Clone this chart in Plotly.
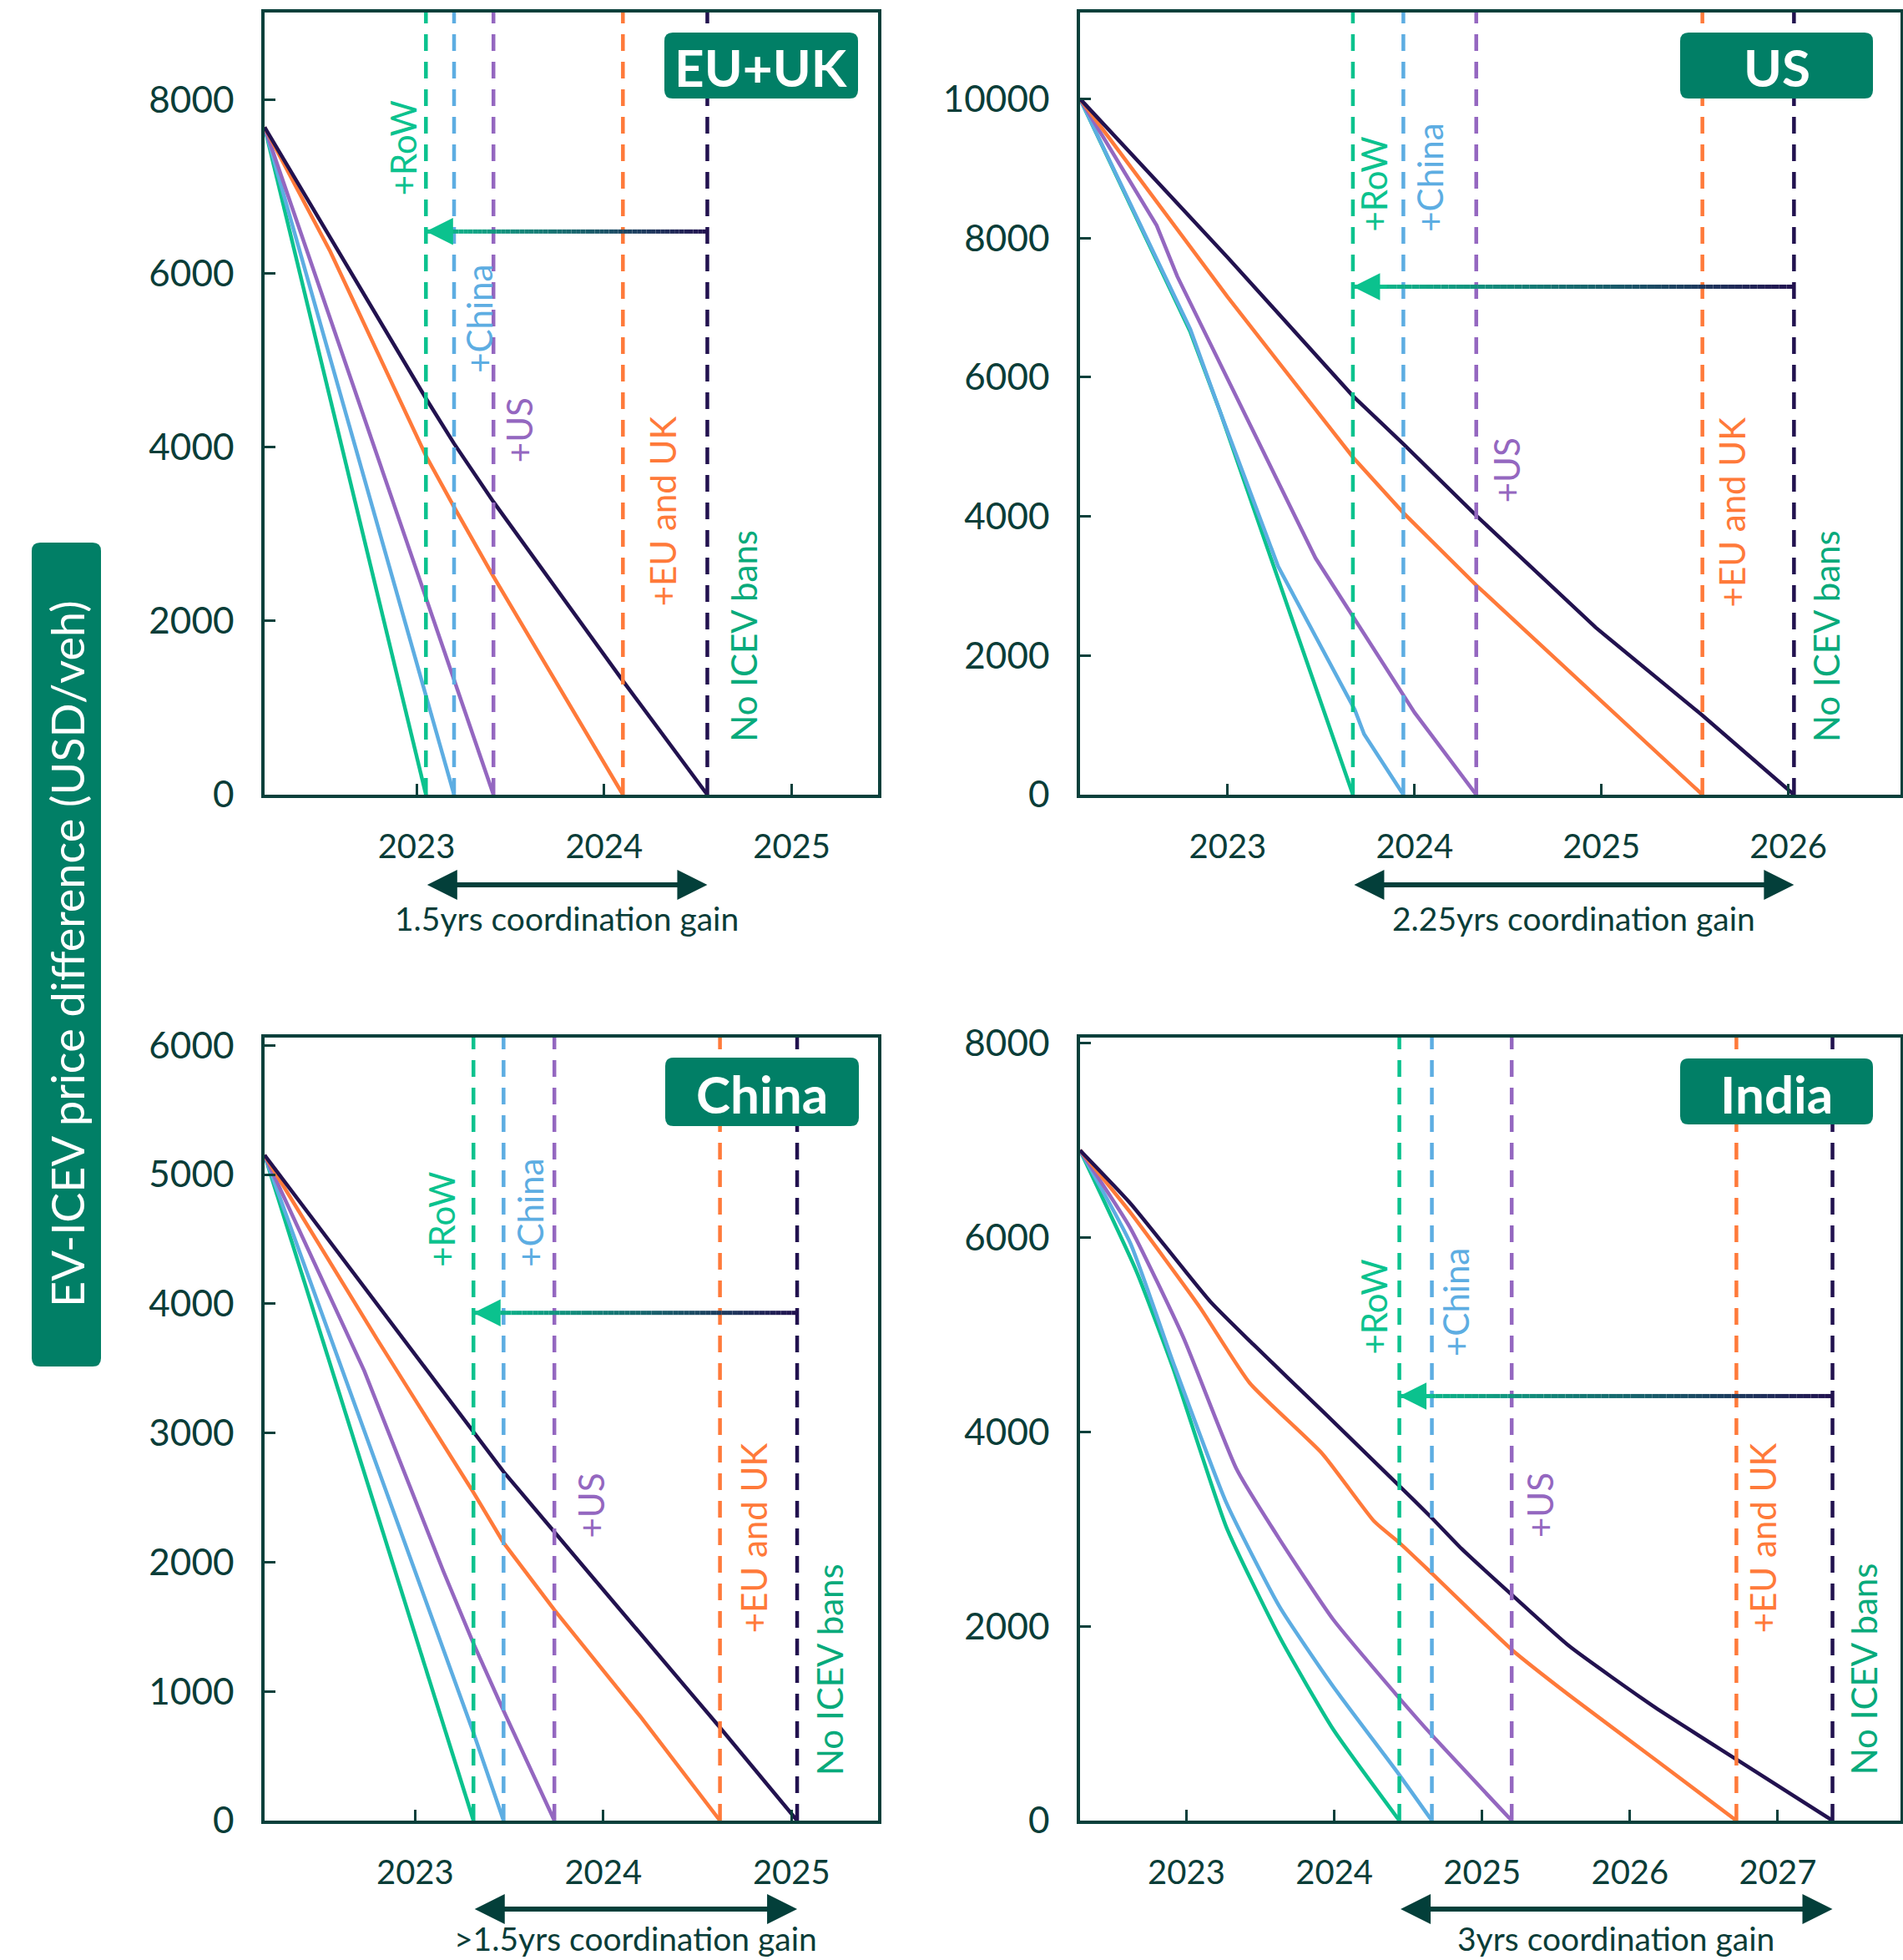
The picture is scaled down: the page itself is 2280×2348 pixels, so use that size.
import plotly.graph_objects as go

W, H = 2280, 2348
FONT = "Lato"
AXIS_COLOR = "#0A403B"
TEXT_DARK = "#0A3D38"
BOX_GREEN = "#017F66"

# ---------------- data ----------------
SCENARIOS = ["+RoW", "+China", "+US", "+EU and UK", "No ICEV bans"]
SERIES_COLORS = ["#0BC28E", "#5DADE2", "#9467C0", "#FF7A3A", "#22124F"]
LABEL_COLORS = ["#0BC28E", "#5DADE2", "#9467C0", "#FF7A3A", "#07AA7B"]
PANEL_TITLES = ["EU+UK", "US", "China", "India"]
GAIN_TEXTS = ["1.5yrs coordination gain", "2.25yrs coordination gain",
              ">1.5yrs coordination gain", "3yrs coordination gain"]

# EU+UK
euuk_row_x = [2022.19, 2023.05]
euuk_row_y = [7680, 0]
euuk_china_x = [2022.19, 2023.20]
euuk_china_y = [7680, 0]
euuk_us_x = [2022.19, 2023.41]
euuk_us_y = [7680, 0]
euuk_eu_x = [2022.19, 2022.54, 2023.05, 2023.20, 2023.41, 2024.10]
euuk_eu_y = [7680, 6250, 3900, 3310, 2510, 0]
euuk_none_x = [2022.19, 2023.05, 2023.20, 2023.41, 2024.10, 2024.55]
euuk_none_y = [7680, 4560, 4040, 3370, 1310, 0]
euuk_arrow_y = 6480

# US
us_row_x = [2022.21, 2022.80, 2022.96, 2023.67]
us_row_y = [10000, 6650, 5500, 0]
us_china_x = [2022.21, 2022.80, 2022.96, 2023.27, 2023.68, 2023.73, 2023.94]
us_china_y = [10000, 6690, 5500, 3280, 1220, 870, 0]
us_us_x = [2022.21, 2022.62, 2022.73, 2023.47, 2024.00, 2024.33]
us_us_y = [10000, 8180, 7450, 3400, 1180, 0]
us_eu_x = [2022.21, 2023.00, 2023.67, 2023.94, 2024.33, 2024.97, 2025.54]
us_eu_y = [10000, 7150, 4850, 4050, 3010, 1410, 0]
us_none_x = [2022.21, 2023.00, 2023.67, 2023.94, 2024.33, 2024.97, 2025.54, 2026.03]
us_none_y = [10000, 7720, 5730, 5040, 4010, 2400, 1140, 0]
us_arrow_y = 7300

# China
china_row_x = [2022.20, 2023.31]
china_row_y = [5150, 0]
china_china_x = [2022.20, 2023.31, 2023.47]
china_china_y = [5150, 680, 0]
china_us_x = [2022.20, 2022.73, 2023.15, 2023.31, 2023.47, 2023.74]
china_us_y = [5150, 3480, 1930, 1370, 850, 0]
china_eu_x = [2022.20, 2022.80, 2023.31, 2023.47, 2023.74, 2024.20, 2024.62]
china_eu_y = [5150, 3720, 2540, 2150, 1630, 800, 0]
china_none_x = [2022.20, 2023.31, 2023.47, 2023.93, 2024.62, 2025.03]
china_none_y = [5150, 3000, 2700, 1906, 720, 0]
china_arrow_y = 3930

# India
india_row_x = [2022.28, 2022.66, 2022.91, 2023.27, 2023.63, 2023.99, 2024.44]
india_row_y = [6900, 5660, 4655, 3020, 1890, 945, 0]
india_china_x = [2022.28, 2022.62, 2022.91, 2023.27, 2023.63, 2023.99, 2024.44, 2024.66]
india_china_y = [6900, 5945, 4715, 3270, 2200, 1385, 470, 0]
india_us_x = [2022.28, 2022.62, 2022.98, 2023.34, 2023.63, 2023.99, 2024.44, 2024.66, 2025.20]
india_us_y = [6900, 6100, 4970, 3615, 2895, 2075, 1260, 880, 0]
india_eu_x = [2022.28, 2022.62, 2023.09, 2023.43, 2023.92, 2024.27, 2024.44, 2024.66,
              2025.20, 2025.59, 2026.17, 2026.72]
india_eu_y = [6900, 6260, 5285, 4500, 3775, 3080, 2860, 2545, 1760, 1290, 630, 0]
india_none_x = [2022.28, 2022.62, 2023.16, 2023.45, 2023.92, 2024.43, 2024.66, 2024.86,
                2025.20, 2025.59, 2026.17, 2026.72, 2027.37]
india_none_y = [6900, 6355, 5345, 4905, 4215, 3460, 3115, 2800, 2325, 1795, 1165, 630, 0]
india_arrow_y = 4370

# ---------------- layout helpers ----------------
PANELS = [
    dict(xs=[euuk_row_x, euuk_china_x, euuk_us_x, euuk_eu_x, euuk_none_x],
         ys=[euuk_row_y, euuk_china_y, euuk_us_y, euuk_eu_y, euuk_none_y],
         arrow_y=euuk_arrow_y, px=(317, 15, 1052, 952), shape="linear",
         xrange=[2022.19, 2025.46], yrange=[0, 9000], dtick=2000,
         xticks=[2023, 2024, 2025], box=(796, 39, 1028, 118),
         labels=[(2022.93, 6878), (2023.33, 4835), (2023.55, 3799), (2024.31, 2144), (2024.74, 590)],
         arrow_px=1060, text_px=1100),
    dict(xs=[us_row_x, us_china_x, us_us_x, us_eu_x, us_none_x],
         ys=[us_row_y, us_china_y, us_us_y, us_eu_y, us_none_y],
         arrow_y=us_arrow_y, px=(1294, 15, 2277, 952), shape="linear",
         xrange=[2022.21, 2026.60], yrange=[0, 11240], dtick=2000,
         xticks=[2023, 2024, 2025, 2026], box=(2013, 39, 2244, 118),
         labels=[(2023.78, 8061), (2024.08, 8061), (2024.49, 4165), (2025.70, 2675), (2026.20, 736)],
         arrow_px=1060, text_px=1100),
    dict(xs=[china_row_x, china_china_x, china_us_x, china_eu_x, china_none_x],
         ys=[china_row_y, china_china_y, china_us_y, china_eu_y, china_none_y],
         arrow_y=china_arrow_y, px=(317, 1243, 1052, 2181), shape="linear",
         xrange=[2022.20, 2025.46], yrange=[0, 6060], dtick=1000,
         xticks=[2023, 2024, 2025], box=(797, 1267, 1029, 1349),
         labels=[(2023.14, 4271), (2023.61, 4271), (2023.93, 2174), (2024.80, 1440), (2025.20, 338)],
         arrow_px=2287, text_px=2322),
    dict(xs=[india_row_x, india_china_x, india_us_x, india_eu_x, india_none_x],
         ys=[india_row_y, india_china_y, india_us_y, india_eu_y, india_none_y],
         arrow_y=india_arrow_y, px=(1294, 1243, 2277, 2181), shape="spline",
         xrange=[2022.28, 2027.83], yrange=[0, 8060], dtick=2000,
         xticks=[2023, 2024, 2025, 2026, 2027], box=(2013, 1268, 2244, 1347),
         labels=[(2024.27, 4785), (2024.82, 4759), (2025.39, 2894), (2026.90, 1916), (2027.58, 450)],
         arrow_px=2287, text_px=2322),
]


def px_x(x):
    return x / W


def px_y(y):
    return 1 - y / H


def rrect(x0, y0, x1, y1, r):
    def P(x, y):
        return f"{px_x(x):.6f},{px_y(y):.6f}"
    return (f"M{P(x0 + r, y0)} L{P(x1 - r, y0)} Q{P(x1, y0)} {P(x1, y0 + r)} "
            f"L{P(x1, y1 - r)} Q{P(x1, y1)} {P(x1 - r, y1)} L{P(x0 + r, y1)} "
            f"Q{P(x0, y1)} {P(x0, y1 - r)} L{P(x0, y0 + r)} Q{P(x0, y0)} {P(x0 + r, y0)} Z")


def hex2rgb(h):
    h = h.lstrip("#")
    return tuple(int(h[i:i + 2], 16) for i in (0, 2, 4))


def mix(c1, c2, t):
    a, b = hex2rgb(c1), hex2rgb(c2)
    return "rgb(%d,%d,%d)" % tuple(round(a[i] + (b[i] - a[i]) * t) for i in range(3))


fig = go.Figure()
shapes = []
annotations = []
layout_axes = {}

for i, p in enumerate(PANELS):
    sfx = "" if i == 0 else str(i + 1)
    xa, ya = "x" + sfx, "y" + sfx
    x0p, y0p, x1p, y1p = p["px"]

    layout_axes["xaxis" + sfx] = dict(
        domain=[px_x(x0p), px_x(x1p)], range=p["xrange"], anchor=ya,
        tickvals=p["xticks"], ticktext=[str(t) for t in p["xticks"]],
        ticks="inside", ticklen=13, tickwidth=3, tickcolor=AXIS_COLOR,
        showline=True, linewidth=3.5, linecolor=AXIS_COLOR, mirror=True,
        showgrid=False, zeroline=False, ticklabelstandoff=24,
        tickfont=dict(family=FONT, size=40, color=TEXT_DARK), automargin=False)
    layout_axes["yaxis" + sfx] = dict(
        domain=[px_y(y1p), px_y(y0p)], range=p["yrange"], anchor=xa,
        dtick=p["dtick"], tick0=0, tickformat="d",
        ticks="inside", ticklen=13, tickwidth=3, tickcolor=AXIS_COLOR,
        showline=True, linewidth=3.5, linecolor=AXIS_COLOR, mirror=True,
        showgrid=False, zeroline=False, ticklabelstandoff=24,
        tickfont=dict(family=FONT, size=44, color=TEXT_DARK), automargin=False)

    # series lines
    for k in range(5):
        fig.add_trace(go.Scatter(
            x=p["xs"][k], y=p["ys"][k], mode="lines", xaxis=xa, yaxis=ya,
            line=dict(color=SERIES_COLORS[k], width=4.5, shape=p["shape"], smoothing=0.5),
            showlegend=False, hoverinfo="skip", cliponaxis=False))

    bans = [xs[-1] for xs in p["xs"]]

    # vertical dashed ban lines
    for k in range(5):
        shapes.append(dict(type="line", xref=xa, yref=ya + " domain",
                           x0=bans[k], x1=bans[k], y0=0, y1=1, layer="above",
                           line=dict(color=SERIES_COLORS[k], width=4.5, dash="20px,13px")))

    # gradient arrow from no-ban year to RoW year
    xr, xn = bans[0], bans[4]
    n = 60
    for s in range(n):
        t0 = s / n
        t1 = (s + 1) / n
        shapes.append(dict(type="line", xref=xa, yref=ya, layer="above",
                           x0=xr + (xn - xr) * t0, x1=xr + (xn - xr) * t1,
                           y0=p["arrow_y"], y1=p["arrow_y"],
                           line=dict(color=mix(SERIES_COLORS[0], SERIES_COLORS[4], (t0 + t1) / 2), width=5)))
    annotations.append(dict(x=xr, y=p["arrow_y"], xref=xa, yref=ya,
                            ax=xr + (xn - xr) * 0.08, ay=p["arrow_y"], axref=xa, ayref=ya,
                            text="", showarrow=True, arrowhead=2, arrowsize=1.3,
                            arrowwidth=5, arrowcolor=SERIES_COLORS[0], standoff=0))

    # scenario labels
    for k in range(5):
        lx, ly = p["labels"][k]
        annotations.append(dict(x=lx, y=ly, xref=xa, yref=ya, text=SCENARIOS[k],
                                textangle=-90, showarrow=False, xanchor="center",
                                yanchor="bottom",
                                font=dict(family=FONT, size=42, color=LABEL_COLORS[k])))

    # title box
    bx0, by0, bx1, by1 = p["box"]
    shapes.append(dict(type="path", xref="paper", yref="paper", path=rrect(bx0, by0, bx1, by1, 10),
                       fillcolor=BOX_GREEN, line=dict(width=0), layer="above"))
    annotations.append(dict(x=px_x((bx0 + bx1) / 2), y=px_y((by0 + by1) / 2 + 2), xref="paper",
                            yref="paper", text="<b>" + PANEL_TITLES[i] + "</b>", showarrow=False,
                            xanchor="center", yanchor="middle",
                            font=dict(family=FONT, size=62, color="white")))

    # coordination-gain double arrow and text
    annotations.append(dict(x=xn, y=px_y(p["arrow_px"]), xref=xa, yref="paper",
                            ax=xr, axref=xa, ay=0, ayref="pixel", text="", showarrow=True,
                            arrowside="end+start", arrowhead=2, startarrowhead=2,
                            arrowsize=1.2, startarrowsize=1.2, arrowwidth=6,
                            arrowcolor="#033F3A", standoff=0, startstandoff=0))
    annotations.append(dict(x=(xr + xn) / 2, y=px_y(p["text_px"]), xref=xa, yref="paper",
                            text=GAIN_TEXTS[i], showarrow=False, xanchor="center",
                            yanchor="middle", font=dict(family=FONT, size=39, color=TEXT_DARK)))

# y-axis title box
shapes.append(dict(type="path", xref="paper", yref="paper", path=rrect(38, 650, 121, 1637, 10),
                   fillcolor=BOX_GREEN, line=dict(width=0)))
annotations.append(dict(x=px_x(80), y=px_y(1143), xref="paper", yref="paper",
                        text="EV-ICEV price difference (USD/veh)", textangle=-90,
                        showarrow=False, xanchor="center", yanchor="middle",
                        font=dict(family=FONT, size=54, color="white")))

fig.update_layout(width=W, height=H, margin=dict(l=0, r=0, t=0, b=0, pad=0),
                  paper_bgcolor="white", plot_bgcolor="white", showlegend=False,
                  shapes=shapes, annotations=annotations, **layout_axes)

fig.write_html("out.html", config={"displayModeBar": False},
               post_script="document.body.style.margin='0';")
